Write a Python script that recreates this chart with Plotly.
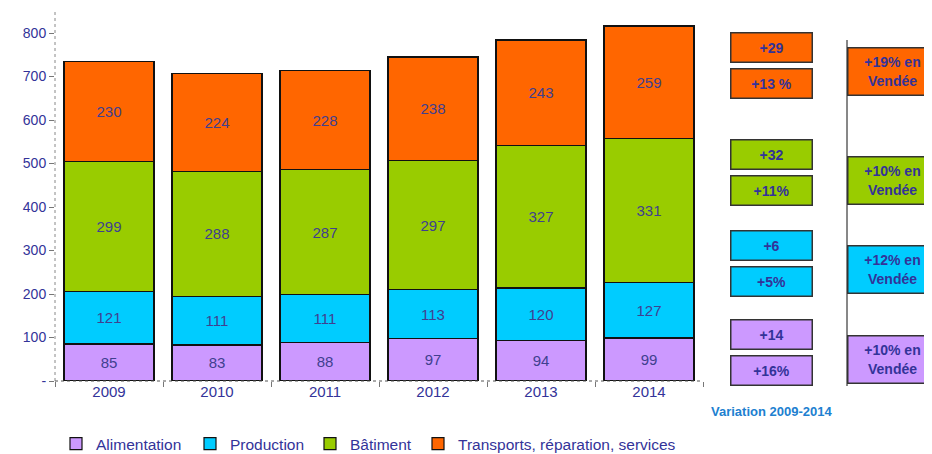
import plotly.graph_objects as go

# The page body has an 8px default margin: the figure is drawn at (8, 8),
# so the figure is sized to fill the rest of the 932x454 window.
OFF = 8
W, H = 932 - OFF, 454 - OFF

years = ["2009", "2010", "2011", "2012", "2013", "2014"]
alimentation = [85, 83, 88, 97, 94, 99]
production = [121, 111, 111, 113, 120, 127]
batiment = [299, 288, 287, 297, 327, 331]
transports = [230, 224, 228, 238, 243, 259]

series_names = ["Alimentation", "Production", "Bâtiment", "Transports, réparation, services"]
series_vals = [alimentation, production, batiment, transports]
colors = ["#CC99FF", "#00CCFF", "#99CC00", "#FF6600"]

# Variation boxes (column 1: absolute / percent ; column 2: Vendée)
var_abs = ["+14", "+6", "+32", "+29"]
var_pct = ["+16%", "+5%", "+11%", "+13 %"]
vendee = ["+10% en<br>Vendée", "+12% en<br>Vendée", "+10% en<br>Vendée", "+19% en<br>Vendée"]

ytickvals = [0, 100, 200, 300, 400, 500, 600, 700, 800]
yticktext = ["-", "100", "200", "300", "400", "500", "600", "700", "800"]

TXT = "#333399"
FONT = "Arial, Liberation Sans, sans-serif"

def px(x):
    return (x - OFF) / W

def py(y):
    return 1 - (y - OFF) / H

legend_ids = ["legend", "legend2", "legend3", "legend4"]
legend_text_x = [100, 234, 354, 462]

fig = go.Figure()
for name, vals, c, lid in zip(series_names, series_vals, colors, legend_ids):
    fig.add_trace(go.Bar(
        name=name, x=years, y=vals, legend=lid,
        marker=dict(color=c, line=dict(color="#111111", width=1.2)),
        text=[str(v) for v in vals], textposition="inside",
        insidetextanchor="middle", textangle=0,
        textfont=dict(family=FONT, size=15, color="#40408f"),
        hoverinfo="skip",
    ))

x0, x1 = 55, 703
yb, yt = 381, 12
ymax = (yb - yt) / 0.435

layout_legends = {}
for lid, tx in zip(legend_ids, legend_text_x):
    layout_legends[lid] = dict(orientation="h", x=px(tx - 44), y=py(444),
                               xanchor="left", yanchor="middle",
                               font=dict(size=15.5, color=TXT), itemwidth=30,
                               bgcolor="rgba(0,0,0,0)")

fig.update_layout(
    width=W, height=H, barmode="stack", bargap=0.167,
    margin=dict(l=0, r=0, t=0, b=0, autoexpand=False),
    paper_bgcolor="white", plot_bgcolor="white",
    font=dict(family=FONT, color=TXT),
    xaxis=dict(domain=[px(x0), px(x1)], type="category", showgrid=False,
               showline=False, ticks="outside", tickson="boundaries",
               ticklen=5, tickcolor="#777777",
               tickfont=dict(size=15, color=TXT), automargin=False),
    yaxis=dict(domain=[py(yb), py(yt)], range=[0, ymax], showgrid=False,
               zeroline=False, showline=False, ticks="outside", ticklen=5,
               tickcolor="#777777", tickvals=ytickvals, ticktext=yticktext,
               tickfont=dict(size=14, color=TXT), automargin=False),
    showlegend=True,
    **layout_legends,
)

# dotted axis lines
fig.add_shape(type="line", xref="paper", yref="paper", x0=px(x0), x1=px(x0),
              y0=py(yb), y1=py(yt), line=dict(color="#888888", width=1, dash="dot"))
fig.add_shape(type="line", xref="paper", yref="paper", x0=px(x0), x1=px(x1),
              y0=py(yb), y1=py(yb), line=dict(color="#555555", width=1, dash="dot"))
# vertical separator line
fig.add_shape(type="line", xref="paper", yref="paper", x0=px(847), x1=px(847),
              y0=py(40), y1=py(386), line=dict(color="#111111", width=1))

# order bottom->top: Alimentation, Production, Bâtiment, Transports
abs_y = [334, 245, 155, 47]
pct_y = [370, 281, 191, 83]
ven_y = [359, 269.5, 180, 72]

for i in range(4):
    for label, yc in ((var_abs[i], abs_y[i]), (var_pct[i], pct_y[i])):
        fig.add_annotation(xref="paper", yref="paper", x=px(730), y=py(yc),
                           xanchor="left", yanchor="middle", text="<b>%s</b>" % label,
                           width=80, height=28, borderpad=0, bgcolor=colors[i],
                           bordercolor="#333333", borderwidth=1.5, showarrow=False,
                           font=dict(size=14, color=TXT), align="center")
    fig.add_annotation(xref="paper", yref="paper", x=px(847), y=py(ven_y[i]),
                       xanchor="left", yanchor="middle", text="<b>%s</b>" % vendee[i],
                       width=88, height=46, borderpad=0, bgcolor=colors[i],
                       bordercolor="#333333", borderwidth=1.5, showarrow=False,
                       font=dict(size=14, color=TXT), align="center")

fig.add_annotation(xref="paper", yref="paper", x=px(771), y=py(411),
                   xanchor="center", yanchor="middle", showarrow=False,
                   text="<b>Variation 2009-2014</b>",
                   font=dict(size=13, color="#2080d0"))

fig.write_html("out.html")
